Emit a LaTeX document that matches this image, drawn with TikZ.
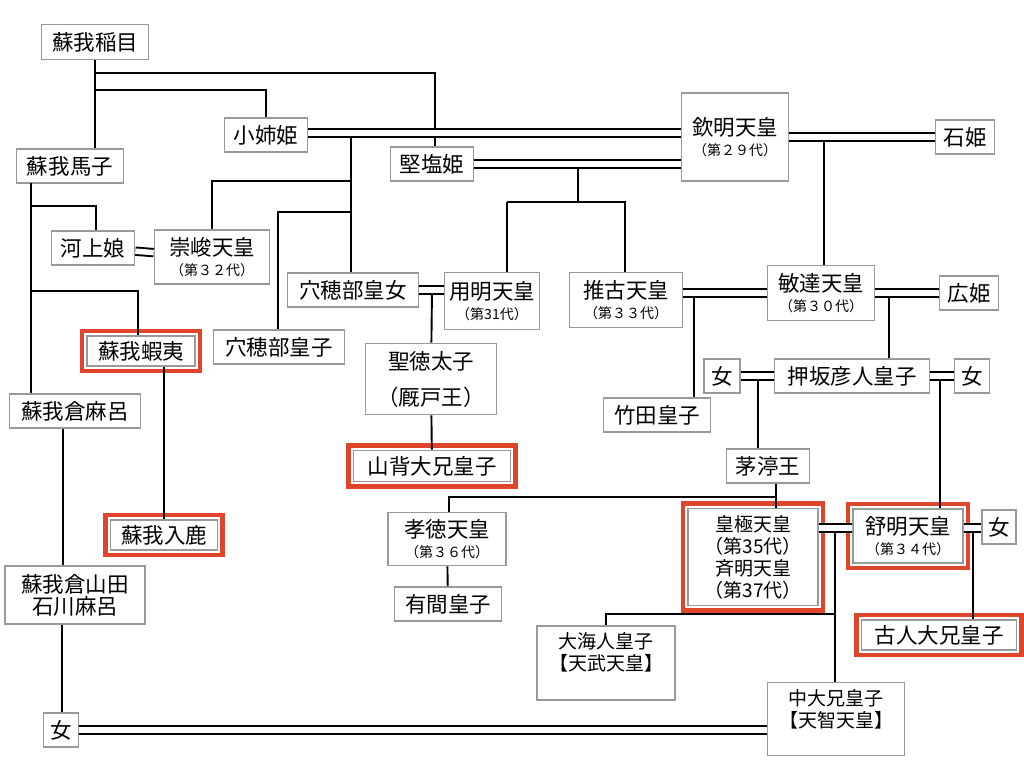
\documentclass[tikz,border=0pt]{standalone}
\usepackage{fontspec}
\setmainfont{Noto Sans CJK JP}
\usetikzlibrary{positioning}
\tikzset{box/.style = {draw=gray!80, line width=1.6pt, fill=white, inner sep=0pt, align=center,
                       font=\fontsize{21.5}{24}\selectfont}}
\tikzset{kin/.style = {line width=1.9pt}}
\tikzset{wed/.style = {draw=black, double=white, double distance=5.5pt, line width=1.9pt}}
\tikzset{hot/.style = {draw=mred, line width=4.5pt}}
\newcommand{\dai}[1]{\\[-4pt]{\fontsize{14}{16}\selectfont #1}}
\definecolor{mred}{rgb}{0.88, 0.27, 0.17}

\begin{document}
\begin{tikzpicture}[x=1pt, y=-1pt]
    \useasboundingbox (0,0) rectangle (1024,768);

    % persons
    \node [box, minimum width=107, minimum height=35] (inaname) at (95,42) {蘇我稲目};
    \node [box, minimum width=83, minimum height=34] (koane) at (266,135) {小姉姫};
    \node [box, minimum width=83, minimum height=34] (kitashi) at (432,164) {堅塩姫};
    \node [box, minimum width=107, minimum height=88] (kinmei) at (735,137) {欽明天皇\dai{（第２９代）}};
    \node [box, minimum width=59, minimum height=34] (ishi) at (965,137) {石姫};
    \node [box, minimum width=107, minimum height=34] (umako) at (70,166) {蘇我馬子};
    \node [box, minimum width=83, minimum height=34] (kawakami) at (93,248) {河上娘};
    \node [box, minimum width=115, minimum height=54] (sushun) at (212,257) {崇峻天皇\dai{（第３２代）}};
    \node [box, minimum width=131, minimum height=34] (anahobejo) at (353,290) {穴穂部皇女};
    \node [box, minimum width=95, minimum height=57] (yomei) at (492,301) {用明天皇\dai{（第31代）}};
    \node [box, minimum width=113, minimum height=55] (suiko) at (626,300) {推古天皇\dai{（第３３代）}};
    \node [box, minimum width=107, minimum height=55] (bidatsu) at (821,293) {敏達天皇\dai{（第３０代）}};
    \node [box, minimum width=59, minimum height=34] (hiro) at (969,293) {広姫};
    \node [box, minimum width=108, minimum height=30] (emishi) at (141,351) {蘇我蝦夷};
    \node [box, minimum width=131, minimum height=34] (anahobeko) at (279,347) {穴穂部皇子};
    \node [box, minimum width=131, minimum height=71, font=\fontsize{21.5}{36}\selectfont] (shotoku) at (431,379) {聖徳太子\\（厩戸王）};
    \node [box, minimum width=36, minimum height=34] (onna1) at (722,376) {女};
    \node [box, minimum width=155, minimum height=34] (oshisaka) at (852,376) {押坂彦人皇子};
    \node [box, minimum width=35, minimum height=34] (onna2) at (972,376) {女};
    \node [box, minimum width=131, minimum height=34] (kuramaro) at (75,411) {蘇我倉麻呂};
    \node [box, minimum width=107, minimum height=34] (takeda) at (657,415) {竹田皇子};
    \node [box, minimum width=157, minimum height=31] (yamashiro) at (432,466) {山背大兄皇子};
    \node [box, minimum width=83, minimum height=34] (chinu) at (768,466) {茅渟王};
    \node [box, minimum width=107, minimum height=30] (iruka) at (164,535) {蘇我入鹿};
    \node [box, minimum width=118, minimum height=53] (kotoku) at (447,539) {孝徳天皇\dai{（第３６代）}};
    \node [box, minimum width=130, minimum height=97, font=\fontsize{19}{22}\selectfont] (kogyoku) at (753,557) {皇極天皇\\（第35代）\\斉明天皇\\（第37代）};
    \node [box, minimum width=110, minimum height=54] (jomei) at (908,536) {舒明天皇\dai{（第３４代）}};
    \node [box, minimum width=34, minimum height=34] (onna3) at (999,527) {女};
    \node [box, minimum width=140, minimum height=58, font=\fontsize{21.5}{22}\selectfont] (kurayamada) at (75,595) {蘇我倉山田\\石川麻呂};
    \node [box, minimum width=107, minimum height=34] (arima) at (448,604) {有間皇子};
    \node [box, minimum width=155, minimum height=30] (furuhito) at (939,635) {古人大兄皇子};
    \node [box, minimum width=138, minimum height=74, font=\fontsize{19}{22}\selectfont] (oama) at (606,663) {大海人皇子\\【天武天皇】\\\mbox{}};
    \node [box, minimum width=137, minimum height=73, font=\fontsize{19}{22}\selectfont] (naka) at (836,719) {中大兄皇子\\【天智天皇】\\\mbox{}};
    \node [box, minimum width=35, minimum height=34] (onna4) at (61,730) {女};

    \foreach \n in {emishi, yamashiro, iruka, kogyoku, jomei, furuhito}
        \draw [hot] ([shift={(-4,-4)}]\n.north west) rectangle ([shift={(4,4)}]\n.south east);

    % children
    \draw [kin] (inaname.south) -- (inaname.south |- umako.north);
    \draw [kin] (95,73) -| (kitashi.north -| 435,0);
    \draw [kin] (95,90) -| (koane);
    \draw [kin] (351,133) -- (anahobejo.north -| 351,0);
    \draw [kin] (351,181) -| (sushun);
    \draw [kin] (351,212) -| (anahobeko.north -| 278,0);
    \draw [kin] (578,164) -- (578,202);
    \draw [kin] (507,202) -| (suiko.north -| 625,0);
    \draw [kin] (507,202) -- (yomei.north -| 507,0);
    \draw [kin] (824,137) -- (bidatsu.north -| 824,0);
    \draw [kin] (31,183) -- (kuramaro.north -| 31,0);
    \draw [kin] (31,206) -| (kawakami.north -| 96,0);
    \draw [kin] (31,291) -| (emishi.north -| 138,0);
    \draw [kin] (432,290) -- (shotoku);
    \draw [kin] (shotoku) -- (yamashiro);
    \draw [kin] (emishi.south -| 164,0) -- (iruka);
    \draw [kin] (kuramaro.south -| 63,0) -- (kurayamada.north -| 63,0);
    \draw [kin] (kurayamada.south -| 62,0) -- (onna4.north -| 62,0);
    \draw [kin] (694,295) -- (takeda.north -| 694,0);
    \draw [kin] (889,293) -- (oshisaka.north -| 889,0);
    \draw [kin] (758,377) -- (chinu.north -| 758,0);
    \draw [kin] (940,377) -- (jomei.north -| 940,0);
    \draw [kin] (chinu.south -| 776,0) -- (kogyoku.north -| 776,0);
    \draw [kin] (776,497) -| (kotoku.north -| 449,0);
    \draw [kin] (kotoku) -- (arima);
    \draw [kin] (835,528) -- (naka.north -| 835,0);
    \draw [kin] (835,614) -| (oama);
    \draw [kin] (973,528) -- (furuhito.north -| 973,0);

    % marriages
    \draw [wed] (koane.east |- 0,133) -- (kinmei.west |- 0,133);
    \draw [wed] (kitashi.east) -- (kitashi.east -| kinmei.west);
    \draw [wed] (kinmei.east |- ishi) -- (ishi.west);
    \draw [wed] (kawakami) -- (sushun);
    \draw [wed] (anahobejo) -- (anahobejo -| yomei.west);
    \draw [wed] (suiko.east |- bidatsu) -- (bidatsu);
    \draw [wed] (bidatsu) -- (hiro);
    \draw [wed] (onna1) -- (oshisaka);
    \draw [wed] (oshisaka) -- (onna2);
    \draw [wed] (kogyoku.east |- 0,528) -- (jomei.west |- 0,528);
    \draw [wed] (jomei.east |- 0,528) -- (onna3.west |- 0,528);
    \draw [wed] (onna4) -- (onna4 -| naka.west);
\end{tikzpicture}
\end{document}
